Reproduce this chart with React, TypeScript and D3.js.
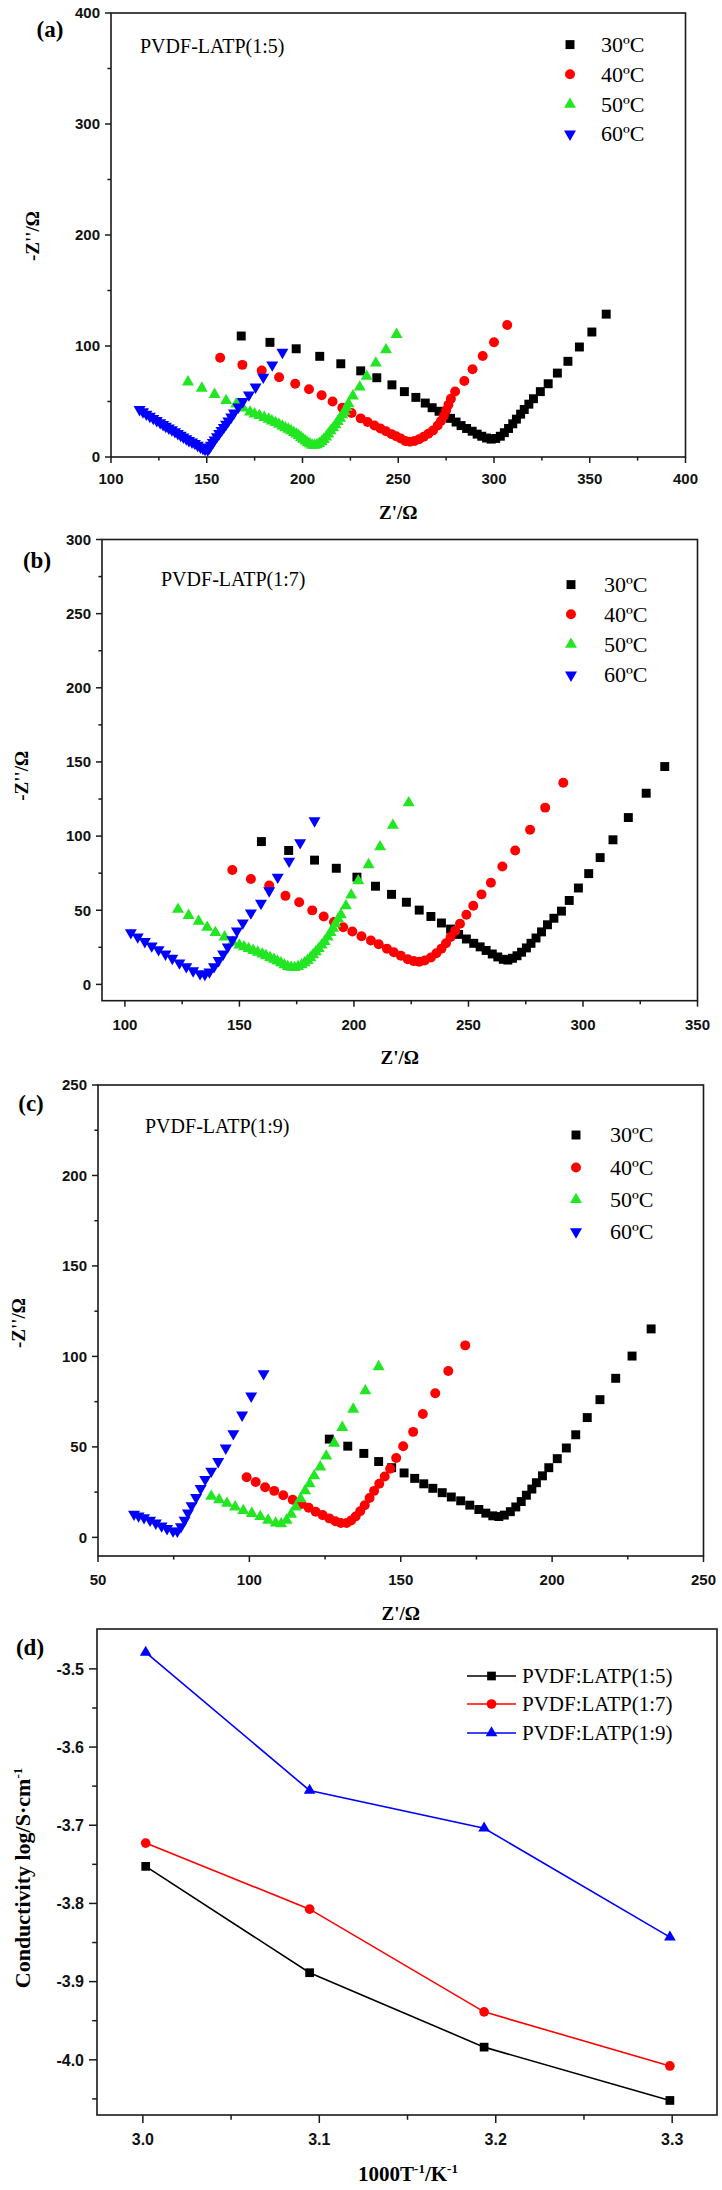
import React from 'react';
import * as d3 from 'd3';

type Pt = [number, number];

// ---------- Panel (a) PVDF-LATP(1:5) ----------
const a30: Pt[] = [[168,109],[183,103.3],[196.7,97.5],[209,90.7],[220,84],[230.4,77.6],[238.8,71.4],[246.7,65],[253.2,58.9],[259.2,53.7],[264.1,48.6],[267.7,44.4],[271.3,41.2],[274.4,38],[277.3,34.8],[280.2,31.5],[282.8,28.3],[285.7,25.7],[288.6,23.2],[291.2,20.6],[293.6,18.7],[296.1,17.1],[298.5,16.1],[300.9,16.7],[303.3,18.7],[305.4,21.9],[307.6,25.7],[309.8,29.9],[311.7,34.1],[313.9,38.6],[315.8,42.8],[318.2,47.6],[320.6,52.5],[324.2,58.9],[328.3,66],[333.1,75.6],[338.6,86.2],[344.6,99.1],[351.1,112.6],[358.6,128.7]];
const a40: Pt[] = [[157,89.5],[168.6,83],[178.7,78],[187.8,71.8],[196.2,66],[203.4,61],[210,55.7],[215.7,50],[220.8,44.4],[225.6,39.6],[230.4,34.8],[234,31.5],[237.6,28.3],[240.7,25.7],[243.6,23.2],[246.5,20.6],[248.9,18.7],[251.3,16.7],[253.7,14.5],[256,13.8],[258.5,14.5],[260.9,16],[263.3,18.3],[265.7,21],[268.2,24],[270.6,28.3],[272.3,32.5],[273.8,37],[275,42],[276.2,47],[277.5,52.5],[279.7,59],[284.5,68.5],[288.8,79],[294.1,91],[300,103.3],[306.9,119]];
const a50: Pt[] = [[140.2,67.6],[147.4,62],[154.1,56.3],[160.1,50.8],[165.4,47.6],[169,44],[172.6,40.5],[175,38.8],[177.5,37.3],[180,35.6],[182.3,34],[184,32.5],[185.9,31],[187.7,29.4],[189.5,27.7],[191,26.3],[192.6,25],[194,23.5],[195.5,22],[196.8,20.6],[198,19.3],[199.2,17.6],[200.3,16],[201.5,14.4],[202.7,12.9],[203.9,11.7],[205.1,10.6],[206.3,10.5],[207.5,11],[208.7,12.2],[210,13.8],[211.1,15.8],[212.3,18],[213.5,20.7],[214.7,23.5],[216,26.2],[217.2,29],[218.4,32],[219.6,34.8],[220.8,38],[222,41],[223,44.5],[224,48],[226.3,55],[229.9,63],[233.5,72.7],[238.3,84.6],[243.6,96.5],[249.1,110.4]];
const a60: Pt[] = [[114.9,42.8],[116.7,40.7],[118.5,38.6],[120.3,36.7],[122.1,34.8],[123.9,32.9],[125.7,31],[127.2,29.3],[128.6,27.7],[130.2,26.1],[131.8,24.5],[133.4,22.8],[134.9,21.2],[136.4,19.6],[137.8,18],[139.3,16.4],[140.7,14.8],[142.3,13.5],[143.8,12.2],[145.3,10.6],[146.7,9],[148,7.8],[149.1,6.8],[150.5,6.4],[151.4,8.3],[152.2,10.6],[153.2,13],[154.1,15.4],[155.3,18.3],[156.5,21.2],[157.7,24],[158.9,26.7],[160.1,29.6],[161.3,32.5],[162.8,36],[164.2,39.6],[166.5,45],[168.8,50],[172,56],[175.5,63],[179.5,72],[184.2,83],[189.5,94.3]];

// ---------- Panel (b) PVDF-LATP(1:7) ----------
const b30: Pt[] = [[159.6,96.3],[171.5,90.3],[182.8,83.8],[192.3,78.3],[201.3,72.3],[209.4,66.2],[216.4,60.7],[222.9,55.4],[228.5,50.1],[233.6,45.8],[238.2,41.4],[242.2,37.3],[245.7,33.7],[249.1,30.6],[252.3,27.7],[255.1,25.3],[257.7,22.9],[260.4,20.5],[262.8,18.5],[265.2,16.9],[267.2,16.4],[269.2,17.6],[271.2,19.3],[273.2,21.7],[275.3,24.6],[277.3,27.7],[279.5,31.3],[281.9,35.4],[284.5,40.2],[287.3,44.6],[290.6,49.4],[294,56.6],[298,65],[302.5,74.7],[307.5,85.5],[313.1,97.5],[319.8,112.5],[327.6,128.9],[335.7,146.9]];
const b40: Pt[] = [[146.9,77.1],[155,71],[163,66.7],[170.1,59.7],[176.1,55.4],[181.8,49.9],[186.8,45.8],[191.3,42.1],[195.3,38.5],[199.3,35.6],[203.3,32.5],[207.4,29.6],[210.8,27],[214.4,24.1],[217.4,21.7],[220.5,19.3],[223.5,16.9],[226.1,15.7],[228.5,15.2],[230.9,16.1],[233.6,18.1],[236,21],[238.2,24.1],[240.2,27.7],[242.2,32],[244.2,36.1],[246.3,40.9],[249.1,47],[252.1,53],[255.7,60.7],[259.8,68.6],[264.8,79.5],[270.4,90.3],[276.9,104.3],[283.5,119.2],[291.4,136]];
const b50: Pt[] = [[123.2,50.6],[127.8,46.5],[132.2,42.6],[135.9,38.5],[139.5,34.9],[143.5,32],[147,28.5],[150,26.5],[152,25.3],[154,24.1],[156,22.9],[158,21.7],[160,20.5],[161.6,19.3],[163.4,18],[165.1,16.9],[166.6,15.7],[168.1,14.5],[169.6,13.2],[171.1,12],[172.6,11.5],[174.1,11.3],[175.6,12],[177.2,13.2],[178.5,14.6],[179.8,16.1],[181,18],[182.2,20],[183.4,22],[184.6,24.1],[185.9,26.5],[187.2,28.9],[188.5,31.9],[189.8,34.9],[190.9,37.9],[191.9,40.9],[193.1,44],[194.3,47],[196.5,53],[198.8,60.2],[201.9,69.8],[206.4,80.7],[211.4,92.7],[217,107.2],[223.9,122.4]];
const b60: Pt[] = [[102.6,34.9],[105.6,32],[108.7,28.9],[111.7,26],[114.7,23.4],[117.7,20.5],[120.7,17.6],[123.8,14.5],[126.8,12],[129.8,9.2],[132.8,7.2],[134.9,6.7],[136.9,8.4],[138.9,12],[140.9,16.1],[142.9,20.5],[144.9,25.3],[146.9,30.1],[148.9,36.1],[151.5,41.5],[155,48.2],[159.4,54.7],[163,63.1],[166.7,72.3],[171.7,83.1],[176.5,95.6],[182.8,110.3]];

// ---------- Panel (c) PVDF-LATP(1:9) ----------
const c30: Pt[] = [[126.4,54.3],[132.5,50.4],[137.8,46.4],[142.7,41.9],[147,38.5],[151.1,35.6],[154.6,32.6],[157.6,29.6],[160.6,27.1],[163.7,24.7],[166.7,22.3],[169.8,20.2],[172.8,17.8],[175.8,15.4],[178.1,13.4],[180.4,11.9],[182.4,11.5],[184.2,12.3],[186.2,14.2],[188,16.8],[189.8,19.8],[191.5,23.3],[193.3,26.7],[194.8,30.2],[196.8,34],[198.9,38.5],[201.7,43.5],[204.7,49.4],[207.8,56.7],[211.6,66.2],[215.8,76.1],[221,87.9],[226.4,100.2],[232.7,115.2]];
const c40: Pt[] = [[99.1,33.2],[102.1,30.6],[105.2,27.7],[108.2,25.7],[111.2,23.3],[114.3,20.8],[117.3,18.4],[119.6,16.4],[121.9,14.2],[124.2,12.3],[126.4,10.5],[128.4,8.9],[130.2,7.9],[132.1,7.9],[133.6,9.3],[135.1,11.5],[136.6,14.4],[138.1,17.8],[139.7,21.7],[141.2,25.7],[142.9,29.6],[144.7,33.6],[146.5,37.9],[148.5,43.9],[150.8,50.4],[154.1,58.3],[157.3,68.2],[161.4,79.6],[165.7,91.9],[171.3,106.1]];
const c50: Pt[] = [[87.4,22.7],[90,20.8],[92.6,18.8],[95.3,16.8],[98,14.8],[100.8,13.2],[103.6,11.5],[106.2,9.5],[108.7,7.9],[110.5,7.5],[112.3,9.5],[113.8,12.8],[115.3,16.8],[116.9,21.3],[118.4,25.7],[119.9,29.6],[121.4,34],[123.4,38.9],[125.4,44.9],[128,52],[130.7,60.7],[134.3,70.8],[138.3,81],[142.7,94.3]];
const c60: Pt[] = [[61.9,12.8],[63.4,11.9],[65.2,10.9],[67.2,9.5],[69.1,7.9],[71,6.3],[72.8,4.9],[74.8,3.6],[76.2,3.4],[77.4,5.9],[78.6,9.5],[79.7,13.5],[80.9,17.5],[82.4,22],[83.9,27],[85.4,32],[87.4,36.6],[89.7,41.9],[92.2,49.4],[94.7,57.3],[97.6,67.6],[100.6,78.1],[104.7,90.5]];

// ---------- Panel (d) conductivity ----------
const dInvT = [3.0016, 3.0945, 3.1934, 3.2987];
const d15 = [-3.7526, -3.8886, -3.9838, -4.052];
const d17 = [-3.7228, -3.8073, -3.9387, -4.0079];
const d19 = [-3.479, -3.6555, -3.7038, -3.8431];
const dNames = ['PVDF:LATP(1:5)', 'PVDF:LATP(1:7)', 'PVDF:LATP(1:9)'];

const tempLabels = ['30ºC', '40ºC', '50ºC', '60ºC'];
const sampleNames = ['PVDF-LATP(1:5)', 'PVDF-LATP(1:7)', 'PVDF-LATP(1:9)'];
const panelTags = ['(a)', '(b)', '(c)', '(d)'];

const COLORS = ['#000000', '#ff0000', '#22e622', '#0000ff'];
const SHAPES = ['square', 'circle', 'up', 'down'];
const SERIF = '"Liberation Serif", "Times New Roman", serif';
const SANS = '"Liberation Sans", Arial, sans-serif';

function symPath(shape: string, scale = 1): string {
  if (shape === 'square') return d3.symbol(d3.symbolSquare, 80 * scale)()!;
  if (shape === 'circle') return d3.symbol(d3.symbolCircle, 78 * scale)()!;
  return d3.symbol(d3.symbolTriangle, 62 * scale)()!;
}

function Marker({ x, y, i, scale = 1 }: { x: number; y: number; i: number; scale?: number }) {
  const sh = SHAPES[i];
  const rot = sh === 'down' ? ' rotate(180)' : '';
  return <path d={symPath(sh, scale)} transform={`translate(${x},${y})${rot}`} fill={COLORS[i]} />;
}

interface Box { l: number; r: number; t: number; b: number }

function Frame({ box, xs, ys, xMajor, xMinor, yMajor, yMinor, xFmt, yFmt, xLabOff, tick, yGap, fs }: any) {
  const b: Box = box;
  return (
    <g>
      <rect x={b.l} y={b.t} width={b.r - b.l} height={b.b - b.t} fill="none" stroke="#1a1a1a" strokeWidth={1.6} />
      {xMajor.map((v: number) => (
        <g key={'xm' + v}>
          <line x1={xs(v)} x2={xs(v)} y1={b.b} y2={b.b + tick} stroke="#1a1a1a" strokeWidth={1.5} />
          <text x={xs(v)} y={b.b + xLabOff} textAnchor="middle" fontFamily={SANS} fontWeight="bold" fontSize={fs} fill="#111">{xFmt(v)}</text>
        </g>
      ))}
      {xMinor.map((v: number) => (
        <line key={'xn' + v} x1={xs(v)} x2={xs(v)} y1={b.b} y2={b.b + tick * 0.6} stroke="#1a1a1a" strokeWidth={1.5} />
      ))}
      {yMajor.map((v: number) => (
        <g key={'ym' + v}>
          <line x1={b.l - tick} x2={b.l} y1={ys(v)} y2={ys(v)} stroke="#1a1a1a" strokeWidth={1.5} />
          <text x={b.l - yGap} y={ys(v) + fs * 0.36} textAnchor="end" fontFamily={SANS} fontWeight="bold" fontSize={fs} fill="#111">{yFmt(v)}</text>
        </g>
      ))}
      {yMinor.map((v: number) => (
        <line key={'yn' + v} x1={b.l - tick * 0.6} x2={b.l} y1={ys(v)} y2={ys(v)} stroke="#1a1a1a" strokeWidth={1.5} />
      ))}
    </g>
  );
}

function range(a: number, b: number, s: number) {
  const out: number[] = [];
  for (let v = a; v <= b + 1e-9; v += s) out.push(Math.round(v * 1000) / 1000);
  return out;
}

function NyquistPanel({ idx, box, xd, yd, xMajor, xMinor, yMajor, yMinor, series, xLabOff, xTitleY, yTitle, tag, note, legend }: any) {
  const b: Box = box;
  const xs = d3.scaleLinear().domain(xd).range([b.l, b.r]);
  const ys = d3.scaleLinear().domain(yd).range([b.b, b.t]);
  return (
    <g>
      <Frame box={b} xs={xs} ys={ys} xMajor={xMajor} xMinor={xMinor} yMajor={yMajor} yMinor={yMinor}
        xFmt={(v: number) => String(v)} yFmt={(v: number) => String(v)} xLabOff={xLabOff} tick={6} yGap={11} fs={15} />
      {series.map((pts: Pt[], i: number) => (
        <g key={i}>
          {pts.map((p, j) => <Marker key={j} x={xs(p[0])} y={ys(p[1])} i={i} />)}
        </g>
      ))}
      <text x={(b.l + b.r) / 2} y={xTitleY} textAnchor="middle" fontFamily={SERIF} fontWeight="bold" fontSize={19}>Z'/Ω</text>
      <text transform={`translate(${yTitle[0]},${yTitle[1]}) rotate(-90)`} dy="0.35em" textAnchor="middle" fontFamily={SERIF} fontWeight="bold" fontSize={19}>-Z''/Ω</text>
      <text x={tag[0]} y={tag[1]} dy="0.35em" textAnchor="middle" fontFamily={SERIF} fontWeight="bold" fontSize={23}>{panelTags[idx]}</text>
      <text x={note[0]} y={note[1]} dy="0.33em" fontFamily={SERIF} fontSize={20}>{sampleNames[idx]}</text>
      {tempLabels.map((t, i) => (
        <g key={t}>
          <Marker x={legend.mx} y={legend.rows[i]} i={i} />
          <text x={legend.tx} y={legend.rows[i]} dy="0.33em" fontFamily={SERIF} fontSize={22}>{t}</text>
        </g>
      ))}
    </g>
  );
}

function ConductivityPanel() {
  const b: Box = { l: 97, r: 717, t: 1629, b: 2115 };
  const xs = d3.scaleLinear().domain([2.974, 3.3254]).range([b.l, b.r]);
  const ys = d3.scaleLinear().domain([-4.0706, -3.449]).range([b.b, b.t]);
  const line = d3.line<number>().x((_, i) => xs(dInvT[i])).y((v) => ys(v));
  const sets = [d15, d17, d19];
  const colorIdx = [0, 1, 3];
  const shapeIdx = [0, 1, 2];
  const rows = [1676, 1704, 1733];
  const mk = (x: number, y: number, k: number, key: any) => {
    const sh = SHAPES[shapeIdx[k]];
    return <path key={key} d={symPath(sh, 0.95)} transform={`translate(${x},${y})`} fill={COLORS[colorIdx[k]]} />;
  };
  return (
    <g>
      <Frame box={b} xs={xs} ys={ys} xMajor={[3.0, 3.1, 3.2, 3.3]} xMinor={[3.05, 3.15, 3.25]}
        yMajor={[-3.5, -3.6, -3.7, -3.8, -3.9, -4.0]} yMinor={[-3.55, -3.65, -3.75, -3.85, -3.95, -4.05]}
        xFmt={(v: number) => v.toFixed(1)} yFmt={(v: number) => v.toFixed(1)} xLabOff={30} tick={8} yGap={13} fs={16} />
      {sets.map((s, k) => (
        <g key={k}>
          <path d={line(s)!} fill="none" stroke={COLORS[colorIdx[k]]} strokeWidth={1.6} />
          {s.map((v, i) => mk(xs(dInvT[i]), ys(v), k, i))}
        </g>
      ))}
      {dNames.map((n, k) => (
        <g key={n}>
          <line x1={467} x2={516} y1={rows[k]} y2={rows[k]} stroke={COLORS[colorIdx[k]]} strokeWidth={1.6} />
          {mk(491.5, rows[k], k, 'l' + k)}
          <text x={522} y={rows[k]} dy="0.33em" fontFamily={SERIF} fontSize={21}>{n}</text>
        </g>
      ))}
      <text x={408} y={2174} dy="0.35em" textAnchor="middle" fontFamily={SERIF} fontWeight="bold" fontSize={21}>
        1000T<tspan dy="-8" fontSize={13}>-1</tspan><tspan dy="8">/K</tspan><tspan dy="-8" fontSize={13}>-1</tspan>
      </text>
      <text transform="translate(22,1878) rotate(-90)" dy="0.35em" textAnchor="middle" fontFamily={SERIF} fontWeight="bold" fontSize={22}>
        Conductivity log/S·cm<tspan dy="-8" fontSize={13}>-1</tspan>
      </text>
      <text x={30} y={1647} dy="0.35em" textAnchor="middle" fontFamily={SERIF} fontWeight="bold" fontSize={23}>{panelTags[3]}</text>
    </g>
  );
}

export default function App() {
  return (
    <div style={{ position: 'absolute', left: 0, top: 0 }}>
      <svg width={722} height={2190} viewBox="0 0 722 2190" style={{ display: 'block', background: '#fff' }}>
        <NyquistPanel idx={0} box={{ l: 111, r: 685.5, t: 13, b: 457 }} xd={[100, 400]} yd={[0, 400]}
          xMajor={range(100, 400, 50)} xMinor={range(125, 375, 50)} yMajor={range(0, 400, 100)} yMinor={range(50, 350, 100)}
          series={[a30, a40, a50, a60]} xLabOff={27} xTitleY={519}
          yTitle={[32, 236]} tag={[50, 29]} note={[140, 46.4]} legend={{ mx: 570, tx: 601, rows: [44.6, 74.3, 104.3, 134] }} />
        <NyquistPanel idx={1} box={{ l: 102, r: 697.5, t: 539.5, b: 1000.7 }} xd={[90, 350]} yd={[-11, 300]}
          xMajor={range(100, 350, 50)} xMinor={range(125, 325, 50)} yMajor={range(0, 300, 50)} yMinor={range(25, 275, 50)}
          series={[b30, b40, b50, b60]} xLabOff={29} xTitleY={1064}
          yTitle={[21, 775.7]} tag={[37, 559.6]} note={[161, 579]} legend={{ mx: 571, tx: 604, rows: [584.6, 614.3, 644.3, 675] }} />
        <NyquistPanel idx={2} box={{ l: 98, r: 703.5, t: 1085, b: 1556 }} xd={[50, 250]} yd={[-10.3, 250]}
          xMajor={range(50, 250, 50)} xMinor={range(75, 225, 50)} yMajor={range(0, 250, 50)} yMinor={range(25, 225, 50)}
          series={[c30, c40, c50, c60]} xLabOff={28.5} xTitleY={1620}
          yTitle={[18.4, 1323]} tag={[31, 1103]} note={[145, 1126]} legend={{ mx: 576, tx: 610, rows: [1135, 1167.5, 1199.6, 1231.8] }} />
        <ConductivityPanel />
      </svg>
    </div>
  );
}
